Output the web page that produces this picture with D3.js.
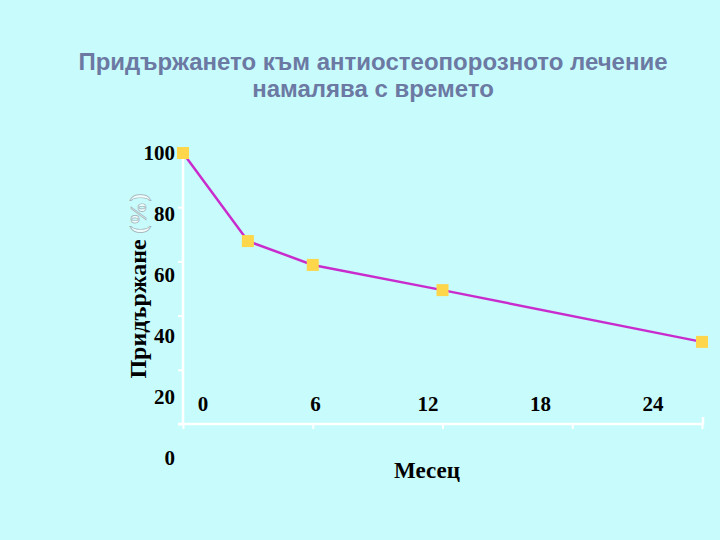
<!DOCTYPE html>
<html>
<head>
<meta charset="utf-8">
<script src="https://cdn.jsdelivr.net/npm/d3@7"></script>
<style>
  body { margin: 0; background: #c8fcfc; }
  svg { display: block; }
  .title { font-family: "Liberation Sans", Arial, sans-serif; font-weight: bold; font-size: 24px; fill: #6b79a3; }
  .lbl { font-family: "Liberation Serif", "Times New Roman", serif; font-weight: bold; font-size: 21px; fill: #000; }
</style>
</head>
<body>
<div id="chart"></div>
<script>
// data
const months = [0, 3, 6, 12, 24];
const adherence = [100, 67.5, 58.7, 49.4, 30.3];
const xTickValues = [0, 6, 12, 18, 24];
const yTickValues = [0, 20, 40, 60, 80, 100];
const titleLines = ["Придържането към антиостеопорозното лечение", "намалява с времето"];

const width = 720, height = 540;

const svg = d3.select("#chart").append("svg")
  .attr("width", width)
  .attr("height", height);

svg.append("rect").attr("width", width).attr("height", height).attr("fill", "#c8fcfc");

// scales (plot area), plus the slightly offset label scales of the original slide
const x = d3.scaleLinear().domain([0, 24]).range([183, 702]);
const y = d3.scaleLinear().domain([0, 100]).range([424, 153]);
const xLabel = d3.scaleLinear().domain([0, 24]).range([203, 653]);
const yLabel = d3.scaleLinear().domain([0, 100]).range([458, 153]);

// title
svg.append("text")
  .attr("class", "title")
  .attr("text-anchor", "middle")
  .selectAll("tspan")
  .data(titleLines).enter()
  .append("tspan")
  .attr("x", 373)
  .attr("y", (d, i) => 70 + i * 27)
  .text(d => d);

// axes (white lines, ticks)
const xAxis = svg.append("g")
  .attr("transform", `translate(0,${y(0)})`)
  .call(d3.axisBottom(x).tickValues(xTickValues).tickSize(5).tickFormat(""));
const yAxis = svg.append("g")
  .attr("transform", `translate(${x(0)},0)`)
  .call(d3.axisLeft(y).tickValues(yTickValues).tickSize(5).tickFormat(""));
[xAxis, yAxis].forEach(g => {
  g.select(".domain").attr("stroke", "#fff").attr("stroke-width", 2.5);
  g.selectAll(".tick line").attr("stroke", "#fff").attr("stroke-width", 2);
});
yAxis.select(".domain").attr("d", `M0,${y(100)}V${y(0)}`);
xAxis.select(".domain").attr("d", `M${x(0) - 5},0H${x(24) + 1}V-7`);

// tick labels
svg.append("g").selectAll("text")
  .data(yTickValues).enter()
  .append("text")
  .attr("class", "lbl")
  .attr("text-anchor", "end")
  .attr("x", 175)
  .attr("y", d => yLabel(d) + 7)
  .text(d => d);

svg.append("g").selectAll("text")
  .data(xTickValues).enter()
  .append("text")
  .attr("class", "lbl")
  .attr("text-anchor", "middle")
  .attr("x", d => xLabel(d))
  .attr("y", 411)
  .text(d => d);

// axis titles
svg.append("text")
  .attr("class", "lbl")
  .style("font-size", "23px")
  .attr("text-anchor", "middle")
  .attr("x", 427)
  .attr("y", 478)
  .text("Месец");

const yTitle = svg.append("text")
  .attr("class", "lbl")
  .style("font-size", "24px")
  .attr("text-anchor", "middle")
  .attr("transform", "translate(146,286) rotate(-90)");
yTitle.append("tspan").text("Придържане ");
yTitle.append("tspan").attr("fill", "#eefcfc").attr("stroke", "#9fb0b8").attr("stroke-width", 0.7).text("(%)");

// line and markers
const pts = months.map((m, i) => [m, adherence[i]]);
svg.append("path")
  .datum(pts)
  .attr("fill", "none")
  .attr("stroke", "#c92ccc")
  .attr("stroke-width", 2.5)
  .attr("d", d3.line().x(d => x(d[0])).y(d => y(d[1])));

svg.append("g").selectAll("rect")
  .data(pts).enter()
  .append("rect")
  .attr("x", d => x(d[0]) - 6)
  .attr("y", d => y(d[1]) - 6)
  .attr("width", 12)
  .attr("height", 12)
  .attr("fill", "#fdd64c");
</script>
</body>
</html>
